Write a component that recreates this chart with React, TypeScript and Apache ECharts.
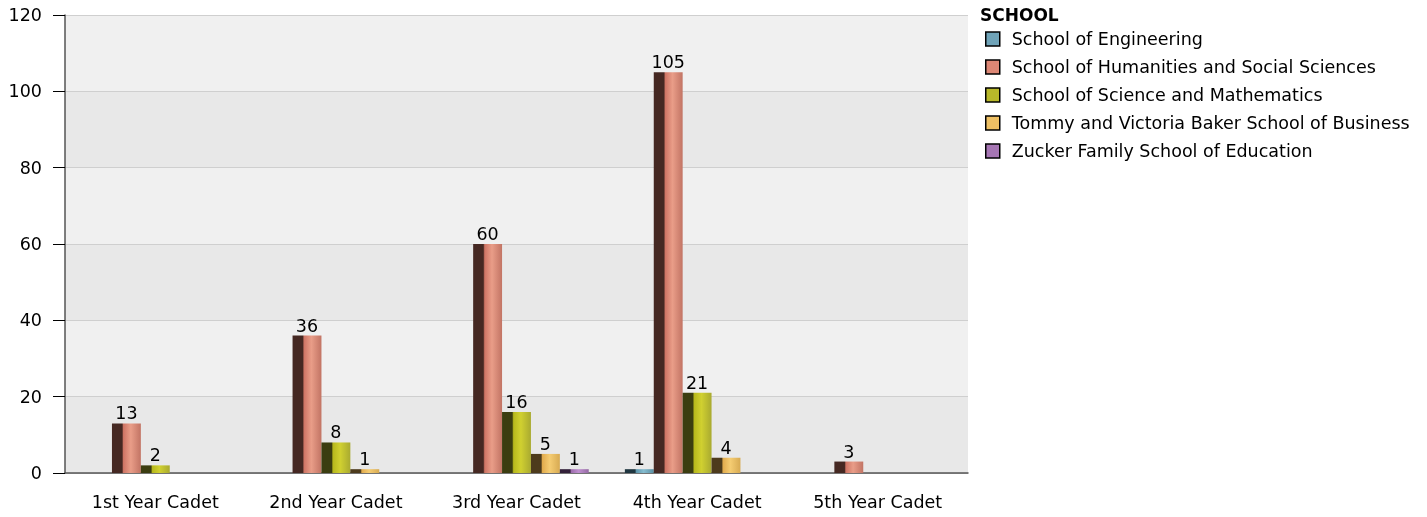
import React, { useEffect, useRef } from "react";
import * as echarts from "echarts";

const categories = ["1st Year Cadet", "2nd Year Cadet", "3rd Year Cadet", "4th Year Cadet", "5th Year Cadet"];
const seriesNames = [
  "School of Engineering",
  "School of Humanities and Social Sciences",
  "School of Science and Mathematics",
  "Tommy and Victoria Baker School of Business",
  "Zucker Family School of Education",
];
const engineering = [null, null, null, 1, null];
const humanities = [13, 36, 60, 105, 3];
const science = [2, 8, 16, 21, null];
const business = [null, 1, 5, 4, null];
const education = [null, null, 1, null, null];
const yTicks = [0, 20, 40, 60, 80, 100, 120];

const palettes = [
  { dark: "#1f3640", mid: "#5f97ad", light: "#86bccf", edge: "#5a8fa3", flat: "#6fa3b8" },
  { dark: "#452822", mid: "#cf7565", light: "#e99d88", edge: "#c27464", flat: "#dd8775" },
  { dark: "#3b3d10", mid: "#b7b81c", light: "#d0d030", edge: "#a9aa30", flat: "#b8b82a" },
  { dark: "#4d3b1c", mid: "#e2ac4e", light: "#f5cc72", edge: "#d7aa52", flat: "#eec064" },
  { dark: "#33203a", mid: "#9e6cae", light: "#bf8fcf", edge: "#9469a3", flat: "#a676b4" },
];

function grad(p: any) {
  return new echarts.graphic.LinearGradient(0, 0, 1, 0, [
    { offset: 0, color: p.dark },
    { offset: 0.35, color: p.dark },
    { offset: 0.4, color: p.mid },
    { offset: 0.65, color: p.light },
    { offset: 1, color: p.edge },
  ]);
}

export default function App() {
  const ref = useRef<HTMLDivElement>(null);
  useEffect(() => {
    const chart = echarts.init(ref.current!, undefined, { renderer: "svg" });
    const all = [engineering, humanities, science, business, education];
    const font = "DejaVu Sans";
    const fs = 17.5;
    chart.setOption({
      animation: false,
      textStyle: { fontFamily: font },
      title: {
        text: "SCHOOL",
        left: 975,
        top: 1,
        textStyle: { fontFamily: font, fontSize: 17, fontWeight: "bold", color: "#000" },
      },
      legend: {
        orient: "vertical",
        left: 985,
        top: 30,
        padding: 0,
        itemWidth: 14,
        itemHeight: 14,
        itemGap: 10,
        textStyle: { fontFamily: font, fontSize: fs, color: "#000", padding: [0, 0, 0, 7] },
        data: seriesNames.map((n, i) => ({
          name: n,
          icon: "rect",
          itemStyle: { color: palettes[i].flat, borderColor: "#000", borderWidth: 1.5 },
        })),
      },
      grid: { left: 65, right: 459, top: 15, bottom: 44 },
      xAxis: {
        type: "category",
        data: categories,
        axisLine: { lineStyle: { color: "#555", width: 1.5 } },
        axisTick: { alignWithLabel: true, length: 11, lineStyle: { color: "#555" } },
        axisLabel: { fontFamily: font, fontSize: fs, color: "#000", margin: 20 },
      },
      yAxis: {
        type: "value",
        min: 0,
        max: 120,
        interval: 20,
        axisLine: { show: true, lineStyle: { color: "#555", width: 1.5 } },
        axisTick: { show: true, length: 12, lineStyle: { color: "#000" } },
        axisLabel: { fontFamily: font, fontSize: fs, color: "#000", margin: 23,
          formatter: (v: number) => (yTicks.includes(v) ? String(v) : "") },
        splitLine: { show: true, lineStyle: { color: "#cfcfcf", width: 1 } },
        splitArea: { show: true, areaStyle: { color: ["#e8e8e8", "#f0f0f0"] } },
      },
      series: seriesNames.map((n, i) => ({
        name: n,
        type: "bar",
        data: all[i],
        barGap: "0%",
        barCategoryGap: "20%",
        itemStyle: { color: grad(palettes[i]) },
        label: {
          show: true,
          position: "top",
          distance: 1,
          fontFamily: font,
          fontSize: fs,
          color: "#000",
        },
      })),
    });
    return () => chart.dispose();
  }, []);
  return <div ref={ref} style={{ position: "fixed", left: 0, top: 0, width: 1427, height: 517 }} />;
}
